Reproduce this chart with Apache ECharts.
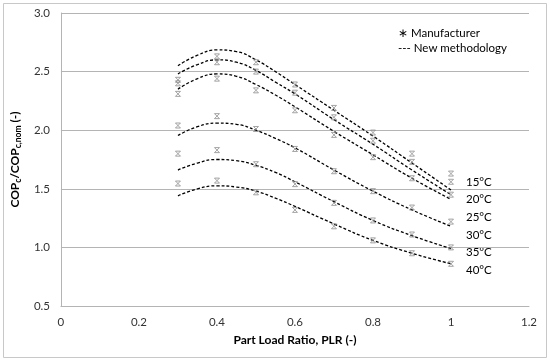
<!DOCTYPE html>
<html><head><meta charset="utf-8">
<script src="https://cdn.jsdelivr.net/npm/echarts@6/dist/echarts.min.js"></script>
<style>html,body{margin:0;padding:0;background:#fff}#c{width:550px;height:361px}</style>
</head><body><div id="c"></div>
<script>
// ---- data ----
var temps = ['15°C','20°C','25°C','30°C','35°C','40°C'];
var plr = [0.3,0.4,0.5,0.6,0.7,0.8,0.9,1.0];
var mfr15 = [2.43,2.63,2.58,2.39,2.19,1.98,1.80,1.63];
var mfr20 = [2.40,2.58,2.50,2.32,2.11,1.91,1.73,1.56];
var mfr25 = [2.31,2.44,2.34,2.17,1.96,1.77,1.59,1.45];
var mfr30 = [2.04,2.12,2.01,1.84,1.65,1.48,1.34,1.22];
var mfr35 = [1.80,1.83,1.71,1.54,1.38,1.23,1.11,1.00];
var mfr40 = [1.545,1.57,1.47,1.32,1.18,1.06,0.95,0.86];
var curveX = [0.3,0.35,0.4,0.45,0.5,0.55,0.6,0.7,0.8,0.9,1.0];
var fit15 = [2.55,2.64,2.685,2.67,2.60,2.50,2.39,2.17,1.95,1.72,1.49];
var fit20 = [2.48,2.56,2.60,2.58,2.51,2.41,2.31,2.09,1.88,1.66,1.45];
var fit25 = [2.35,2.44,2.48,2.46,2.39,2.30,2.20,1.99,1.79,1.59,1.41];
var fit30 = [1.955,2.03,2.06,2.05,2.00,1.93,1.85,1.66,1.48,1.32,1.18];
var fit35 = [1.66,1.72,1.75,1.74,1.70,1.64,1.56,1.39,1.23,1.10,0.99];
var fit40 = [1.44,1.50,1.525,1.515,1.48,1.42,1.35,1.20,1.06,0.95,0.86];
var xTicks = {min:0, max:1.2, step:0.2};
var yTicks = {min:0.5, max:3.0, step:0.5};

var mfr = [mfr15,mfr20,mfr25,mfr30,mfr35,mfr40];
var fit = [fit15,fit20,fit25,fit30,fit35,fit40];
function pairs(xs, ys){ return xs.map(function(x,i){return [x, ys[i]];}); }

var FONT = 'Lato, "Open Sans", sans-serif';
var series = [];
fit.forEach(function(f,i){
  series.push({name:'New methodology', type:'line', data:pairs(curveX,f), smooth:0.5,
    showSymbol:false, silent:true,
    lineStyle:{color:'#000', width:1.3, type:[3,2]}, z:2});
});
mfr.forEach(function(m,i){
  series.push({name:'Manufacturer', type:'scatter', data:pairs(plr,m),
    symbol:'path://M0,0 L10,0 M0,10 L10,10 M0,0 L10,10 M10,0 L0,10', symbolSize:5,
    itemStyle:{color:'none', borderColor:'#8c8c8c', borderWidth:1}, z:3});
});

var graphics = [
  {type:'rect', shape:{x:3.5,y:3.5,width:543,height:354}, style:{fill:'none', stroke:'#c8c8c8', lineWidth:1}, silent:true},
  {type:'text', left:398, top:27, style:{text:'\u2217 Manufacturer', font:'11.5px '+FONT, fill:'#000'}},
  {type:'text', left:398, top:42, style:{text:'--- New methodology', font:'11.5px '+FONT, fill:'#000'}}
];
var labY = [183,200,218,236,253,271];
temps.forEach(function(t,i){
  graphics.push({type:'text', left:466, top:labY[i]-7, style:{text:t, font:'11.5px '+FONT, fill:'#000'}});
});

var chart = echarts.init(document.getElementById('c'));
chart.setOption({
  animation:false,
  backgroundColor:'#fff',
  grid:{left:57, right:21, top:13, bottom:55},
  xAxis:{type:'value', min:xTicks.min, max:xTicks.max, interval:xTicks.step,
    name:'Part Load Ratio, PLR (-)', nameLocation:'middle', nameGap:28,
    nameTextStyle:{fontFamily:FONT, fontSize:12, fontWeight:'bold', color:'#000'},
    axisLine:{show:true, lineStyle:{color:'#b4b4b4'}}, axisTick:{show:false},
    splitLine:{show:false},
    axisLabel:{fontFamily:FONT, fontSize:11.5, color:'#333', margin:10,
      formatter:function(v){return String(Math.round(v*10)/10);}}},
  yAxis:{type:'value', min:yTicks.min, max:yTicks.max, interval:yTicks.step,
    name:'{b|COP}{s|c}{b|/COP}{s|c,nom}{b| (-)}', nameLocation:'middle', nameGap:27, nameRotate:90,
    nameTextStyle:{rich:{
      b:{fontFamily:FONT, fontSize:12, fontWeight:'bold', color:'#000', lineHeight:16, verticalAlign:'middle'},
      s:{fontFamily:FONT, fontSize:8.5, fontWeight:'bold', color:'#000', lineHeight:8, verticalAlign:'bottom', padding:[6,0,0,0]}
    }},
    axisLine:{show:true, lineStyle:{color:'#b4b4b4'}}, axisTick:{show:false},
    splitLine:{show:true, lineStyle:{color:'#b4b4b4', width:1}},
    axisLabel:{fontFamily:FONT, fontSize:11.5, color:'#333', margin:11,
      formatter:function(v){return v.toFixed(1);}}},
  series:series,
  graphic:graphics
});
</script></body></html>
